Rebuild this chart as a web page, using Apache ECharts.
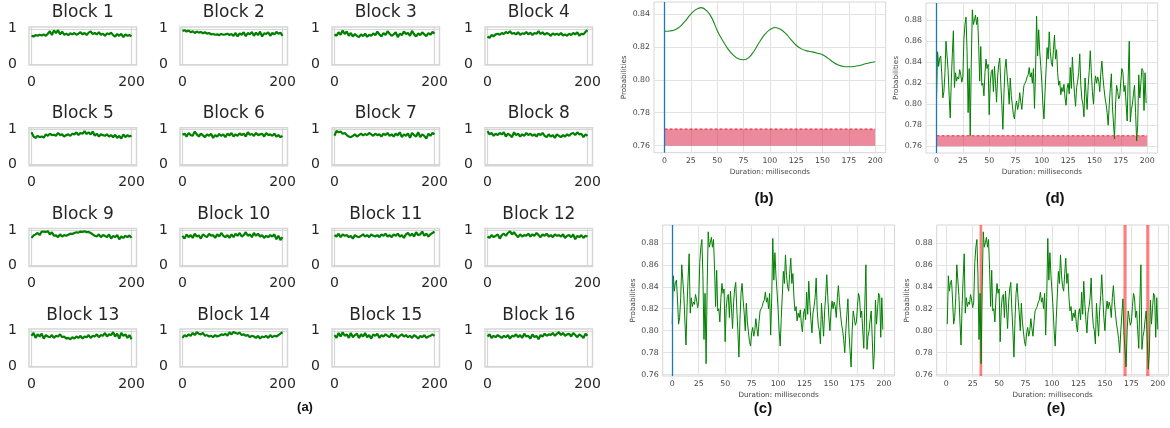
<!DOCTYPE html>
<html><head><meta charset="utf-8">
<script src="https://cdn.jsdelivr.net/npm/echarts@6/dist/echarts.min.js"></script>
<style>html,body{margin:0;padding:0;background:#fff}#c{width:1170px;height:428px}</style>
</head><body><div id="c"></div>
<script>
// ---------- DATA ----------
const blockNames = ['Block 1','Block 2','Block 3','Block 4','Block 5','Block 6','Block 7','Block 8',
  'Block 9','Block 10','Block 11','Block 12','Block 13','Block 14','Block 15','Block 16'];
const block1 = [0.80,0.78,0.82,0.80,0.83,0.81,0.84,0.80,0.86,0.93,0.82,0.95,0.88,0.96,0.84,0.92,0.83,0.86,0.82,0.87,0.84,0.88,0.83,0.86,0.90,0.84,0.88,0.82,0.89,0.92,0.85,0.88,0.84,0.90,0.83,0.86,0.80,0.87,0.84,0.89,0.82,0.78,0.85,0.80,0.86,0.76,0.84,0.80,0.82,0.79];
const block2 = [0.94,0.96,0.92,0.95,0.90,0.93,0.88,0.92,0.89,0.91,0.87,0.90,0.86,0.88,0.84,0.85,0.83,0.84,0.82,0.85,0.83,0.84,0.86,0.82,0.85,0.80,0.88,0.78,0.87,0.83,0.90,0.79,0.88,0.84,0.91,0.80,0.89,0.82,0.92,0.78,0.87,0.85,0.90,0.80,0.88,0.84,0.91,0.86,0.89,0.80];
const block3 = [0.84,0.80,0.90,0.83,0.95,0.85,0.92,0.80,0.88,0.78,0.85,0.80,0.76,0.84,0.79,0.86,0.77,0.83,0.80,0.87,0.82,0.92,0.84,0.78,0.88,0.82,0.93,0.86,0.80,0.84,0.90,0.76,0.86,0.82,0.92,0.85,0.88,0.80,0.94,0.84,0.78,0.87,0.82,0.90,0.84,0.79,0.88,0.83,0.91,0.86];
const block4 = [0.78,0.74,0.82,0.79,0.84,0.86,0.83,0.88,0.85,0.91,0.87,0.93,0.86,0.88,0.84,0.90,0.83,0.87,0.85,0.91,0.84,0.89,0.82,0.88,0.86,0.93,0.85,0.90,0.83,0.88,0.85,0.80,0.87,0.83,0.86,0.82,0.88,0.81,0.84,0.80,0.86,0.82,0.88,0.84,0.90,0.80,0.86,0.84,0.91,0.96];
const block5 = [0.92,0.80,0.76,0.82,0.78,0.80,0.77,0.86,0.82,0.88,0.84,0.85,0.82,0.90,0.84,0.86,0.80,0.84,0.86,0.82,0.88,0.86,0.92,0.84,0.90,0.88,0.95,0.87,0.92,0.86,0.94,0.82,0.88,0.80,0.86,0.84,0.82,0.86,0.80,0.84,0.78,0.85,0.76,0.82,0.74,0.86,0.78,0.84,0.80,0.83];
const block6 = [0.85,0.88,0.80,0.90,0.84,0.82,0.94,0.86,0.80,0.88,0.83,0.78,0.86,0.82,0.88,0.76,0.84,0.80,0.87,0.82,0.86,0.78,0.88,0.83,0.90,0.80,0.86,0.82,0.89,0.84,0.88,0.80,0.92,0.85,0.87,0.82,0.90,0.84,0.86,0.88,0.80,0.90,0.84,0.86,0.82,0.88,0.80,0.84,0.78,0.82];
const block7 = [0.82,0.96,0.92,0.94,0.88,0.90,0.84,0.80,0.78,0.82,0.86,0.80,0.84,0.88,0.83,0.87,0.84,0.90,0.86,0.82,0.88,0.84,0.86,0.80,0.88,0.84,0.90,0.82,0.86,0.80,0.88,0.83,0.92,0.78,0.86,0.82,0.89,0.76,0.90,0.84,0.80,0.92,0.78,0.86,0.82,0.74,0.88,0.82,0.90,0.86];
const block8 = [0.95,0.86,0.90,0.82,0.88,0.84,0.90,0.86,0.92,0.80,0.88,0.84,0.78,0.92,0.84,0.88,0.80,0.86,0.82,0.90,0.84,0.88,0.82,0.86,0.80,0.88,0.84,0.90,0.82,0.78,0.86,0.80,0.84,0.76,0.86,0.82,0.78,0.84,0.80,0.86,0.82,0.88,0.90,0.84,0.92,0.86,0.88,0.78,0.86,0.82];
const block9 = [0.78,0.85,0.88,0.92,0.86,0.96,0.96,0.95,0.97,0.88,0.94,0.84,0.85,0.80,0.88,0.82,0.86,0.84,0.87,0.90,0.89,0.92,0.94,0.93,0.96,0.95,0.97,0.94,0.95,0.92,0.88,0.84,0.82,0.88,0.80,0.86,0.84,0.80,0.88,0.76,0.84,0.80,0.86,0.74,0.82,0.78,0.84,0.80,0.85,0.78];
const block10 = [0.84,0.76,0.88,0.80,0.86,0.78,0.90,0.82,0.85,0.76,0.88,0.84,0.80,0.90,0.84,0.86,0.78,0.88,0.82,0.92,0.84,0.80,0.86,0.78,0.88,0.80,0.90,0.84,0.92,0.82,0.86,0.94,0.84,0.88,0.80,0.92,0.84,0.90,0.82,0.86,0.78,0.84,0.80,0.86,0.82,0.88,0.74,0.84,0.72,0.80];
const block11 = [0.86,0.82,0.90,0.80,0.88,0.84,0.86,0.80,0.84,0.76,0.86,0.82,0.80,0.84,0.88,0.82,0.86,0.80,0.88,0.84,0.82,0.86,0.80,0.88,0.84,0.90,0.82,0.86,0.80,0.88,0.84,0.90,0.82,0.86,0.78,0.88,0.92,0.84,0.90,0.82,0.94,0.86,0.88,0.96,0.84,0.90,0.82,0.88,0.92,0.96];
const block12 = [0.82,0.78,0.86,0.80,0.84,0.88,0.76,0.86,0.90,0.84,0.92,0.97,0.88,0.94,0.86,0.80,0.88,0.82,0.86,0.84,0.90,0.82,0.88,0.84,0.92,0.86,0.80,0.88,0.84,0.90,0.82,0.86,0.80,0.88,0.84,0.86,0.82,0.88,0.78,0.84,0.86,0.80,0.88,0.74,0.84,0.80,0.86,0.78,0.84,0.82];
const block13 = [0.86,0.94,0.80,0.90,0.84,0.92,0.78,0.88,0.84,0.82,0.88,0.80,0.86,0.84,0.90,0.82,0.84,0.78,0.80,0.76,0.82,0.78,0.84,0.80,0.86,0.78,0.84,0.82,0.88,0.80,0.86,0.84,0.90,0.82,0.88,0.86,0.94,0.84,0.90,0.88,0.96,0.84,0.92,0.78,0.94,0.86,0.90,0.80,0.88,0.76];
const block14 = [0.80,0.88,0.84,0.90,0.86,0.94,0.88,0.96,0.92,0.90,0.94,0.86,0.88,0.84,0.86,0.82,0.88,0.84,0.86,0.90,0.88,0.92,0.86,0.96,0.90,0.97,0.94,0.92,0.95,0.88,0.90,0.86,0.88,0.82,0.86,0.84,0.80,0.86,0.78,0.84,0.82,0.86,0.80,0.88,0.82,0.86,0.84,0.88,0.92,0.96];
const block15 = [0.88,0.80,0.94,0.84,0.96,0.86,0.90,0.80,0.94,0.82,0.88,0.92,0.80,0.90,0.84,0.94,0.82,0.88,0.78,0.90,0.86,0.92,0.80,0.88,0.84,0.90,0.86,0.82,0.92,0.84,0.88,0.80,0.86,0.90,0.84,0.88,0.82,0.86,0.80,0.88,0.84,0.78,0.86,0.82,0.88,0.80,0.84,0.86,0.90,0.86];
const block16 = [0.84,0.90,0.80,0.86,0.82,0.88,0.84,0.80,0.86,0.82,0.88,0.78,0.86,0.84,0.90,0.82,0.88,0.80,0.92,0.84,0.86,0.78,0.90,0.82,0.86,0.76,0.88,0.84,0.92,0.86,0.90,0.88,0.94,0.86,0.92,0.96,0.88,0.94,0.86,0.90,0.92,0.84,0.94,0.88,0.82,0.90,0.86,0.80,0.92,0.86];
const blockValues = [block1,block2,block3,block4,block5,block6,block7,block8,block9,block10,block11,block12,block13,block14,block15,block16];
const blockSpan = 200;
const blockXTicks = [0, 200];
const blockYTicks = [0, 1];

// (b) smoothed probability
const smoothX = [0,5,10,15,20,25,30,35,40,45,50,55,60,65,70,75,80,85,90,95,100,105,110,115,120,125,130,135,140,145,150,155,160,165,170,175,180,185,190,195,200];
const smoothValues = [0.8295,0.8297,0.8305,0.8325,0.8360,0.8400,0.8428,0.8439,0.8420,0.8375,0.8300,0.8240,0.8190,0.8152,0.8128,0.8122,0.8135,0.8175,0.8228,0.8275,0.8305,0.8318,0.8308,0.8282,0.8245,0.8210,0.8188,0.8176,0.8170,0.8162,0.8152,0.8132,0.8108,0.8090,0.8081,0.8079,0.8081,0.8087,0.8096,0.8104,0.8110];

// (c),(d),(e) raw probability per millisecond
const rawValues = [
 0.806,0.850,0.836,0.844,0.846,0.828,0.806,0.812,0.830,0.860,
 0.861,0.832,0.808,0.787,0.822,0.848,0.870,0.816,0.830,0.822,
 0.826,0.824,0.833,0.828,0.821,0.826,0.862,0.876,0.883,0.850,
 0.792,0.834,0.770,0.840,0.890,0.876,0.880,0.885,0.876,0.883,
 0.856,0.822,0.855,0.818,0.820,0.808,0.830,0.843,0.834,0.838,
 0.790,0.820,0.831,0.833,0.812,0.836,0.820,0.802,0.826,0.838,
 0.844,0.820,0.800,0.776,0.810,0.834,0.843,0.828,0.816,0.800,
 0.825,0.808,0.799,0.790,0.786,0.798,0.803,0.795,0.800,0.811,
 0.802,0.795,0.808,0.818,0.820,0.822,0.826,0.828,0.835,0.826,
 0.830,0.820,0.834,0.796,0.830,0.884,0.846,0.871,0.850,0.836,
 0.820,0.800,0.786,0.811,0.810,0.854,0.843,0.869,0.850,0.840,
 0.836,0.852,0.866,0.843,0.852,0.830,0.818,0.822,0.809,0.816,
 0.812,0.819,0.806,0.799,0.815,0.820,0.810,0.835,0.815,0.845,
 0.825,0.810,0.798,0.816,0.822,0.830,0.848,0.818,0.805,0.800,
 0.788,0.825,0.810,0.795,0.818,0.832,0.851,0.830,0.812,0.800,
 0.818,0.827,0.820,0.826,0.822,0.812,0.830,0.841,0.826,0.815,
 0.806,0.800,0.792,0.780,0.800,0.815,0.829,0.798,0.782,0.767,
 0.800,0.818,0.812,0.805,0.808,0.822,0.834,0.830,0.812,0.818,
 0.800,0.784,0.826,0.860,0.783,0.795,0.800,0.810,0.818,0.792,
 0.765,0.780,0.828,0.806,0.820,0.834,0.832,0.794,0.830,0.801];

const xTicks = [0,25,50,75,100,125,150,175,200];
const yTicksB = [0.76,0.78,0.80,0.82,0.84];
const yTicksD = [0.76,0.78,0.80,0.82,0.84,0.86,0.88];
const thresholdLow = 0.76, thresholdHigh = 0.77;
const bandStart = 0, bandEnd = 200;
const alarmBands = [[31.5,34],[167.5,170.5],[189,192]];
const captions = ['(a)','(b)','(c)','(d)','(e)'];

// ---------- BUILD ----------
const FONT = 'DejaVu Sans';
const chart = echarts.init(document.getElementById('c'), null, {renderer:'canvas'});
const grids=[], xAxes=[], yAxes=[], series=[], graphics=[];

const colLeft = [29,180,332,485];
const rowTop0 = 27, rowStep = 100.7, bw = 107.5, bh = 38;
blockValues.forEach((vals, k) => {
  const r = Math.floor(k/4), c = k%4;
  const left = colLeft[c], top = rowTop0 + r*rowStep;
  grids.push({left, top, width:bw, height:bh, show:true, borderColor:'#d6d6d6', borderWidth:1.5, backgroundColor:'#fff'});
  const gi = grids.length-1;
  xAxes.push({gridIndex:gi, type:'value', min:-5, max:210,
    axisLine:{show:false}, axisTick:{show:false, customValues:blockXTicks},
    splitLine:{show:true, lineStyle:{color:'#d6d6d6', width:1.2}},
    axisLabel:{customValues:blockXTicks, fontFamily:FONT, fontSize:14, color:'#262626', margin:10}});
  yAxes.push({gridIndex:gi, type:'value', min:-0.03, max:1.05,
    axisLine:{show:false}, axisTick:{show:false, customValues:blockYTicks},
    splitLine:{show:true, lineStyle:{color:'#d6d6d6', width:1.2}},
    axisLabel:{customValues:blockYTicks, fontFamily:FONT, fontSize:14, color:'#262626', margin:12}});
  const n = vals.length;
  series.push({type:'line', xAxisIndex:gi, yAxisIndex:gi, showSymbol:false, silent:true,
    data: vals.map((v,i)=>[i*blockSpan/(n-1), v]),
    lineStyle:{color:'#008000', width:2.2}, animation:false});
  graphics.push({type:'text', x:left+bw/2, y:top-14,
    style:{text:blockNames[k], x:0, y:0, textAlign:'center', textVerticalAlign:'middle', font:'17px "DejaVu Sans"', fill:'#262626'}});
});

function panel(cfg){
  grids.push({left:cfg.left, top:cfg.top, width:cfg.width, height:cfg.height, show:true, borderColor:'#d6d6d6', borderWidth:1, backgroundColor:'#fff'});
  const gi = grids.length-1;
  xAxes.push({gridIndex:gi, type:'value', min:cfg.xmin, max:cfg.xmax,
    name:'Duration: milliseconds', nameLocation:'middle', nameGap:16,
    nameTextStyle:{fontFamily:FONT, fontSize:7.2, color:'#444'},
    axisLine:{show:false}, axisTick:{show:false, customValues:xTicks},
    splitLine:{show:true, lineStyle:{color:'#e2e2e2', width:1}},
    axisLabel:{customValues:xTicks, fontFamily:FONT, fontSize:7.8, color:'#444', margin:4}});
  yAxes.push({gridIndex:gi, type:'value', min:cfg.ymin, max:cfg.ymax,
    name:'Probabilities', nameLocation:'middle', nameGap:cfg.nameGapY||26,
    nameTextStyle:{fontFamily:FONT, fontSize:7.2, color:'#444'},
    axisLine:{show:false}, axisTick:{show:false, customValues:cfg.yTicks},
    splitLine:{show:true, lineStyle:{color:'#e2e2e2', width:1}},
    axisLabel:{customValues:cfg.yTicks, formatter:v=>v.toFixed(2), fontFamily:FONT, fontSize:7.8, color:'#444', margin:4}});
  return gi;
}

const vlineStyle = {color:'#1f77b4', width:1.3, type:'solid'};
function addThreshold(gi){
  // band 0.76-0.77 and vertical marker at 0
  series.push({type:'line', xAxisIndex:gi, yAxisIndex:gi, showSymbol:false, silent:true, animation:false,
    data:[[bandStart,thresholdHigh],[bandEnd,thresholdHigh]],
    lineStyle:{color:'#ee2a3a', width:1.1, type:[3,2]}, z:6,
    markArea:{silent:true, data:[[{coord:[bandStart,thresholdLow]},{coord:[bandEnd,thresholdHigh]}]], itemStyle:{color:'rgba(220,20,60,0.5)'}},
    markLine:{silent:true, symbol:'none', label:{show:false}, animation:false, lineStyle:vlineStyle, data:[{xAxis:0, lineStyle:vlineStyle}]}});
}

// (b)
let g = panel({left:654, top:2, width:231.7, height:150.7, xmin:-10, xmax:210, ymin:0.7557, ymax:0.8473, yTicks:yTicksB});
series.push({type:'line', xAxisIndex:g, yAxisIndex:g, showSymbol:false, silent:true, smooth:0.4, animation:false,
  data: smoothX.map((x,i)=>[x, smoothValues[i]]), lineStyle:{color:'#1a8a1a', width:1.1}, z:3});
addThreshold(g);

// (d)
g = panel({left:926, top:3, width:231.7, height:150, xmin:-10, xmax:210, ymin:0.7535, ymax:0.8965, yTicks:yTicksD});
series.push({type:'line', xAxisIndex:g, yAxisIndex:g, showSymbol:false, silent:true, animation:false,
  data: rawValues.map((v,i)=>[i, v]), lineStyle:{color:'#008000', width:1}, z:3});
addThreshold(g);

// (c)
g = panel({left:662.7, top:225, width:231.8, height:151, xmin:-9, xmax:210, ymin:0.7588, ymax:0.8962, yTicks:yTicksD});
series.push({type:'line', xAxisIndex:g, yAxisIndex:g, showSymbol:false, silent:true, animation:false,
  data: rawValues.map((v,i)=>[i, v]), lineStyle:{color:'#008000', width:1}, z:3,
  markLine:{silent:true, symbol:'none', label:{show:false}, animation:false, lineStyle:vlineStyle, data:[
    {xAxis:0, lineStyle:vlineStyle}]}});

// (e)
g = panel({left:936.7, top:225, width:231.7, height:151, xmin:-9, xmax:210, ymin:0.7588, ymax:0.8962, yTicks:yTicksD});
series.push({type:'line', xAxisIndex:g, yAxisIndex:g, showSymbol:false, silent:true, animation:false,
  data: rawValues.map((v,i)=>[i+1, v]), lineStyle:{color:'#008000', width:1}, z:3});
series.push({type:'line', xAxisIndex:g, yAxisIndex:g, showSymbol:false, silent:true, animation:false,
  data: rawValues.map((v,i)=>[i+1, v]), lineStyle:{opacity:0}, z:5,
  markArea:{silent:true, data: alarmBands.map(b=>[{xAxis:b[0]},{xAxis:b[1]}]), itemStyle:{color:'rgba(255,0,0,0.5)'}}});

// captions
const capPos = [[305,407,13],[764,199,15],[763,409,15],[1055,199,15],[1056,409,15]];
captions.forEach((t,i)=>{
  graphics.push({type:'text', x:capPos[i][0], y:capPos[i][1],
    style:{text:t, x:0, y:0, textAlign:'center', textVerticalAlign:'middle', font:'bold '+capPos[i][2]+'px "Liberation Sans"', fill:'#111'}});
});

chart.setOption({animation:false, backgroundColor:'#ffffff', grid:grids, xAxis:xAxes, yAxis:yAxes, series, graphic:graphics});
</script></body></html>
